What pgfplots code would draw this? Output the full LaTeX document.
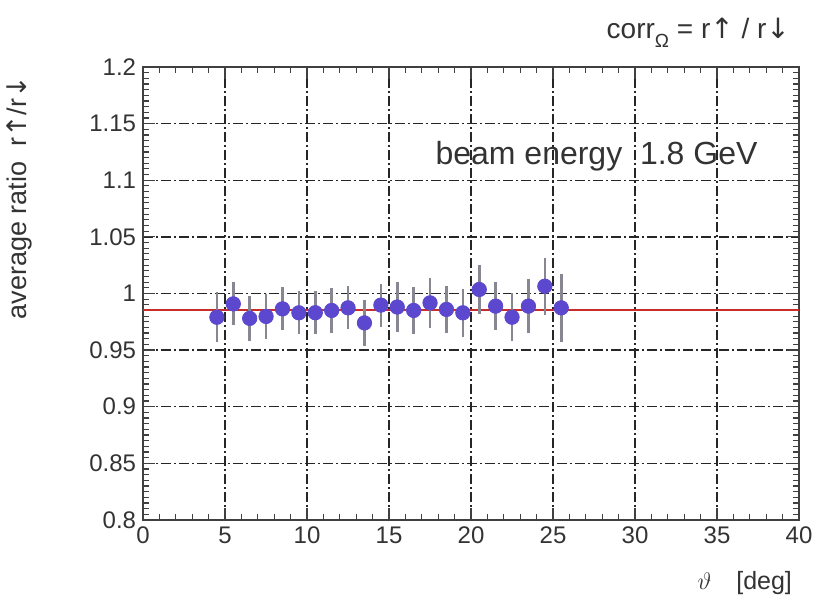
\documentclass[border=0pt]{standalone}
\usepackage{pgfplots}
\pgfplotsset{compat=1.18}
\usepackage{fontspec}
\setmainfont{Liberation Sans}
\newfontfamily\arrowfont{DejaVu Sans}
\definecolor{markblue}{RGB}{92,72,206}
\definecolor{errgray}{RGB}{135,135,145}
\definecolor{fitred}{RGB}{200,45,45}
\newcommand{\up}{{\arrowfont\char"2191}}
\newcommand{\dn}{{\arrowfont\char"2193}}

\pgfplotstableread{
x     y       e
4.5   0.979   0.022
5.5   0.9908  0.019
6.5   0.978   0.020
7.5   0.9797  0.020
8.5   0.9864  0.019
9.5   0.9829  0.019
10.5  0.983   0.019
11.5  0.985   0.020
12.5  0.9873  0.019
13.5  0.974   0.020
14.5  0.9897  0.019
15.5  0.988   0.022
16.5  0.985   0.021
17.5  0.9917  0.022
18.5  0.9859  0.021
19.5  0.9829  0.021
20.5  1.0035  0.022
21.5  0.9888  0.021
22.5  0.979   0.021
23.5  0.9888  0.024
24.5  1.0064  0.025
25.5  0.9873  0.030
}\ratio

\begin{document}
\begin{tikzpicture}
\begin{axis}[
  scale only axis,
  width=328pt, height=226.5pt,
  xmin=0, xmax=40, ymin=0.8, ymax=1.2,
  xtick={0,5,10,15,20,25,30,35,40},
  ytick={0.8,0.85,0.9,0.95,1,1.05,1.1,1.15,1.2},
  minor x tick num=4, minor y tick num=9,
  tick align=inside,
  major tick length=6pt, minor tick length=3pt,
  tick style={black!75, line width=0.6pt},
  axis line style={black!75, line width=0.8pt},
  grid=major,
  major grid style={black!85, line width=0.7pt, dash pattern=on 5pt off 1.5pt on 1pt off 1.5pt},
  tick label style={font=\fontsize{12}{14}\selectfont, black!80},
  /pgf/number format/assume math mode=true,
  yticklabel style={/pgf/number format/.cd, fixed, precision=2},
  clip=false,
]
\addplot[fitred, line width=0.7pt] coordinates {(0,0.9853) (40,0.9853)};
\addplot[only marks, mark=*, mark size=3.6pt, color=markblue,
  error bars/.cd, y dir=both, y explicit, error mark=none,
  error bar style={errgray, line width=1.3pt}]
  table[x=x, y=y, y error=e] {\ratio};
\node[anchor=base east, font=\fontsize{16}{18}\selectfont, black!80] at (axis cs:37.9,1.114) {beam energy\ \ 1.8 GeV};
\node[anchor=base east, font=\fontsize{14}{16}\selectfont, black!80] at ([xshift=-1pt, yshift=14pt]rel axis cs:1,1)
  {corr\raisebox{-0.55ex}{\fontsize{9.5}{10}\selectfont Ω} = r\up\ / r\dn};
\node[anchor=north east, font=\fontsize{12.5}{14}\selectfont, black!80] at ([xshift=0pt, yshift=-22pt]rel axis cs:1,0)
  {$\vartheta$\quad[deg]};
\node[rotate=90, anchor=south east, font=\fontsize{13.5}{15}\selectfont, black!80] at ([xshift=-52pt, yshift=-1pt]rel axis cs:0,1)
  {average ratio\ \ r\up/r\dn};
\end{axis}
\path[use as bounding box] (-71.5pt,-37pt) rectangle (341pt,260pt);
\end{tikzpicture}
\end{document}
